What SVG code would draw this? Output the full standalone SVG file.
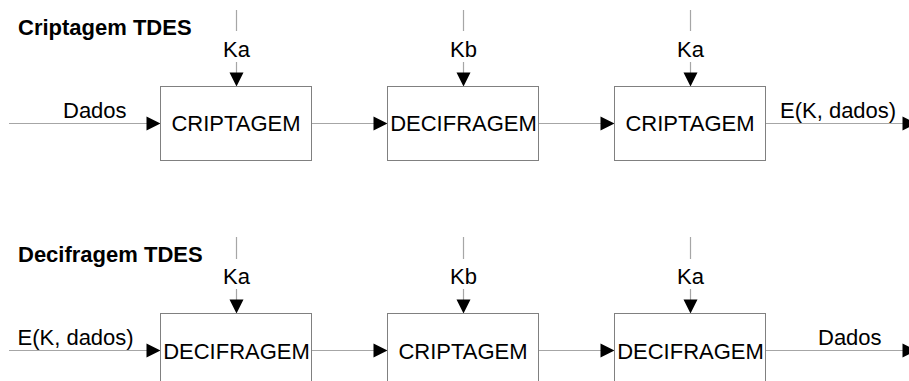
<svg xmlns="http://www.w3.org/2000/svg" width="909" height="381" viewBox="0 0 909 381">
<defs>
<style>
.bg{fill:#ffffff}
.box{fill:#ffffff;stroke:#808080;stroke-width:1}
.ln{fill:none;stroke:#a6a6a6;stroke-width:1.2}
.ah{fill:#000000}
.t{font-family:"Liberation Sans",Arial,sans-serif;font-size:22px;fill:#000000}
.c{text-anchor:middle}
.title{font-family:"Liberation Sans",Arial,sans-serif;font-size:22px;font-weight:bold;fill:#000000}
</style>
<path id="ar" class="ah" d="M0,0 L-14,-7 L-14,7 Z"/>
<path id="ad" class="ah" d="M0,0 L-7,-14 L7,-14 Z"/>
</defs>
<rect class="bg" x="0" y="0" width="909" height="381"/>
<g id="titles">
<text class="title" x="18" y="35">Criptagem TDES</text>
<text class="title" x="18" y="262">Decifragem TDES</text>
</g>
<g id="connectors">
<!-- top row horizontal -->
<line class="ln" x1="9" y1="123.5" x2="148" y2="123.5"/>
<use href="#ar" x="160.5" y="123.5"/>
<line class="ln" x1="311.5" y1="123.5" x2="375" y2="123.5"/>
<use href="#ar" x="387.5" y="123.5"/>
<line class="ln" x1="538.5" y1="123.5" x2="602" y2="123.5"/>
<use href="#ar" x="614.5" y="123.5"/>
<line class="ln" x1="765.5" y1="123.5" x2="904" y2="123.5"/>
<use href="#ar" x="916.5" y="123.5"/>
<!-- top keys -->
<line class="ln" x1="236.5" y1="10" x2="236.5" y2="31"/>
<line class="ln" x1="236.5" y1="62" x2="236.5" y2="74"/>
<use href="#ad" x="236.5" y="86.5"/>
<line class="ln" x1="463.5" y1="10" x2="463.5" y2="31"/>
<line class="ln" x1="463.5" y1="62" x2="463.5" y2="74"/>
<use href="#ad" x="463.5" y="86.5"/>
<line class="ln" x1="690.5" y1="10" x2="690.5" y2="31"/>
<line class="ln" x1="690.5" y1="62" x2="690.5" y2="74"/>
<use href="#ad" x="690.5" y="86.5"/>
<!-- bottom row horizontal -->
<line class="ln" x1="9" y1="350.5" x2="148" y2="350.5"/>
<use href="#ar" x="160.5" y="350.5"/>
<line class="ln" x1="311.5" y1="350.5" x2="375" y2="350.5"/>
<use href="#ar" x="387.5" y="350.5"/>
<line class="ln" x1="538.5" y1="350.5" x2="602" y2="350.5"/>
<use href="#ar" x="614.5" y="350.5"/>
<line class="ln" x1="765.5" y1="350.5" x2="904" y2="350.5"/>
<use href="#ar" x="916.5" y="350.5"/>
<!-- bottom keys -->
<line class="ln" x1="236.5" y1="237" x2="236.5" y2="259"/>
<line class="ln" x1="236.5" y1="289" x2="236.5" y2="301"/>
<use href="#ad" x="236.5" y="313.5"/>
<line class="ln" x1="463.5" y1="237" x2="463.5" y2="259"/>
<line class="ln" x1="463.5" y1="289" x2="463.5" y2="301"/>
<use href="#ad" x="463.5" y="313.5"/>
<line class="ln" x1="690.5" y1="237" x2="690.5" y2="259"/>
<line class="ln" x1="690.5" y1="289" x2="690.5" y2="301"/>
<use href="#ad" x="690.5" y="313.5"/>
</g>
<g id="labels">
<text class="t c" x="236.5" y="56.5">Ka</text>
<text class="t c" x="463.5" y="56.5">Kb</text>
<text class="t c" x="690.5" y="56.5">Ka</text>
<text class="t" x="63" y="118">Dados</text>
<text class="t" x="780" y="118">E(K, dados)</text>
<text class="t c" x="236.5" y="283.5">Ka</text>
<text class="t c" x="463.5" y="283.5">Kb</text>
<text class="t c" x="690.5" y="283.5">Ka</text>
<text class="t" x="17.5" y="345">E(K, dados)</text>
<text class="t" x="818" y="345">Dados</text>
</g>
<g id="enc1">
<rect class="box" x="160.5" y="86.5" width="151" height="74"/>
<text class="t c" x="236" y="130.5">CRIPTAGEM</text>
</g>
<g id="dec1">
<rect class="box" x="387.5" y="86.5" width="151" height="74"/>
<text class="t c" x="463.5" y="130.5">DECIFRAGEM</text>
</g>
<g id="enc2">
<rect class="box" x="614.5" y="86.5" width="151" height="74"/>
<text class="t c" x="690" y="130.5">CRIPTAGEM</text>
</g>
<g id="dec2">
<rect class="box" x="160.5" y="313.5" width="151" height="74"/>
<text class="t c" x="236.5" y="358.5">DECIFRAGEM</text>
</g>
<g id="enc3">
<rect class="box" x="387.5" y="313.5" width="151" height="74"/>
<text class="t c" x="463" y="358.5">CRIPTAGEM</text>
</g>
<g id="dec3">
<rect class="box" x="614.5" y="313.5" width="151" height="74"/>
<text class="t c" x="690.5" y="358.5">DECIFRAGEM</text>
</g>
</svg>
